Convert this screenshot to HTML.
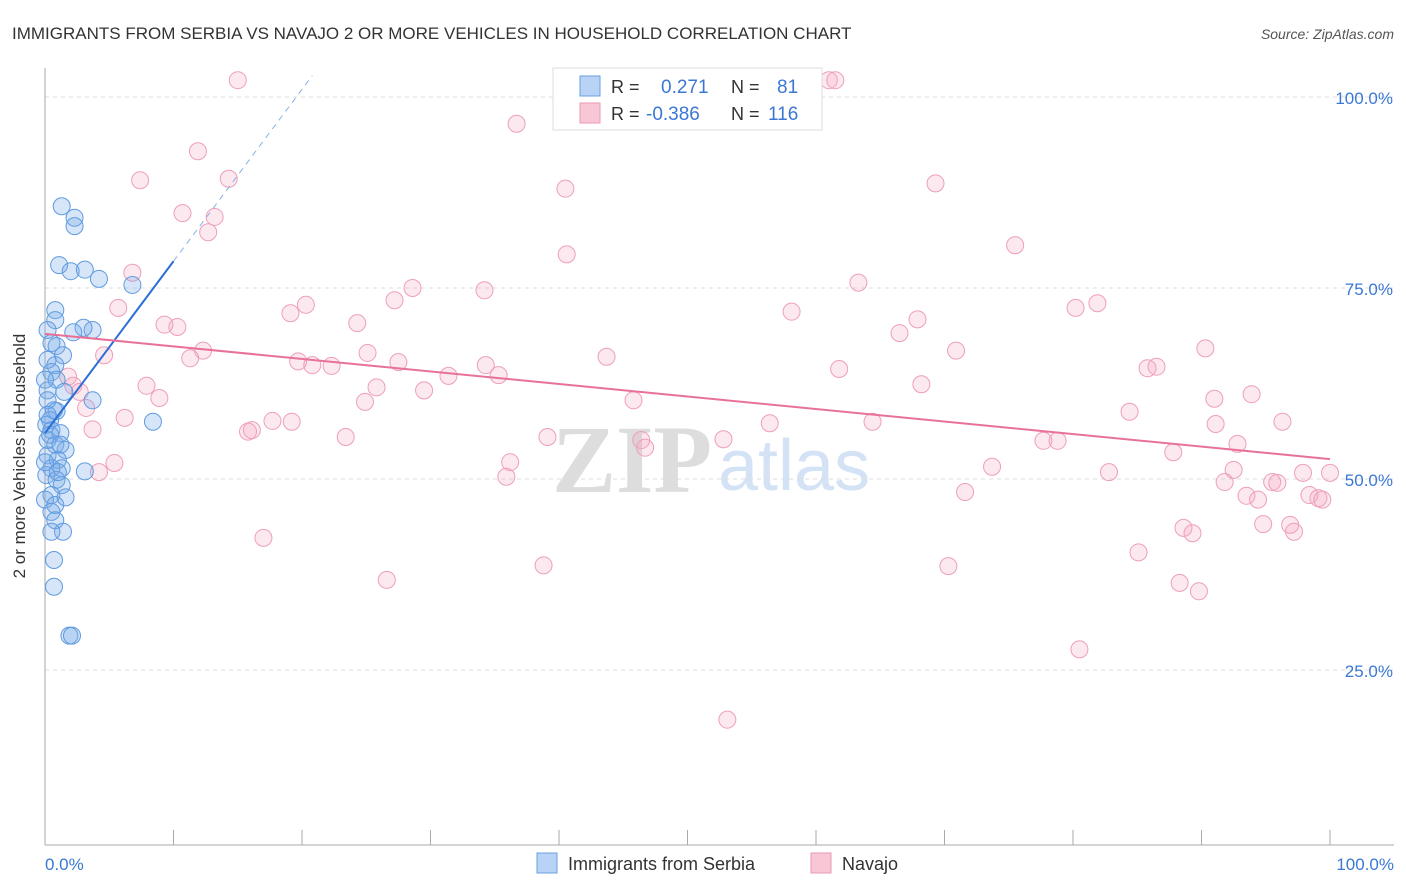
<!DOCTYPE html>
<html><head><meta charset="utf-8"><style>
body{margin:0;background:#fff;font-family:"Liberation Sans",sans-serif;}
svg{display:block}
</style></head><body>
<svg id="chart" width="1406" height="892" xmlns="http://www.w3.org/2000/svg">
<text x="12" y="39" font-size="17" fill="#333">IMMIGRANTS FROM SERBIA VS NAVAJO 2 OR MORE VEHICLES IN HOUSEHOLD CORRELATION CHART</text>
<text x="1394" y="39" font-size="14" fill="#555" font-style="italic" text-anchor="end">Source: ZipAtlas.com</text>
<g>
<text x="552" y="492" font-size="96" fill="#ddd" font-family="Liberation Serif" font-weight="bold">ZIP</text>
<text x="718" y="490" font-size="72" fill="#d3e2f5">atlas</text>
</g>
<g id="grid"></g>
<g id="axes"></g>
<g id="pts"></g>
<g id="trends"></g>
<text x="25" y="456" font-size="17" fill="#333" text-anchor="middle" transform="rotate(-90 25 456)">2 or more Vehicles in Household</text>
<text x="45" y="870" font-size="17" fill="#3a78d4">0.0%</text>
<text x="1394" y="870" font-size="17" fill="#3a78d4" text-anchor="end">100.0%</text>
<g>
<rect x="553" y="68" width="269" height="62" fill="#fff" stroke="#ddd"/>
<rect x="580" y="76" width="20" height="20" fill="#b8d3f5" stroke="#6aa0e0"/>
<rect x="580" y="103" width="20" height="20" fill="#f9c6d6" stroke="#e89ab5"/>
<text x="611" y="93" font-size="18" fill="#333">R = </text><text x="661" y="93" font-size="19" fill="#3a78d4">0.271</text>
<text x="731" y="93" font-size="18" fill="#333">N = </text><text x="777" y="93" font-size="19" fill="#3a78d4">81</text>
<text x="611" y="120" font-size="18" fill="#333">R = </text><text x="646" y="120" font-size="19" fill="#3a78d4">-0.386</text>
<text x="731" y="120" font-size="18" fill="#333">N = </text><text x="768" y="120" font-size="19" fill="#3a78d4">116</text>
</g>
<g>
<rect x="537" y="853" width="20" height="20" fill="#b8d3f5" stroke="#6aa0e0"/>
<text x="568" y="870" font-size="18" fill="#333">Immigrants from Serbia</text>
<rect x="811" y="853" width="20" height="20" fill="#f9c6d6" stroke="#e89ab5"/>
<text x="842" y="870" font-size="18" fill="#333">Navajo</text>
</g>
</svg>
<script>
const yTicks=[25,50,75,100];
const yTickLabels=["25.0%","50.0%","75.0%","100.0%"];
const xTicks=[0,10,20,30,40,50,60,70,80,90,100];
const blueX=[1.3,2.3,2.3,1.1,2.0,3.1,4.2,6.8,0.8,0.8,3.7,3.0,2.2,0.2,0.5,0.9,1.4,0.8,0.5,0.9,0.2,1.5,3.7,8.4,0.7,0.9,0.4,0.1,0.5,1.2,0.2,0.8,1.6,0.2,1.0,1.3,3.1,0.5,0.1,0.9,1.3,0.5,0.0,0.8,0.5,0.8,1.4,0.5,0.7,0.7,1.9,2.1,0.2,0.2,0.4,1.2,0.0,1.6,1.0,0.0,0.2];
const blueY=[85.7,84.2,83.1,78.0,77.2,77.4,76.2,75.4,72.1,70.8,69.5,69.8,69.2,69.5,67.8,67.4,66.2,64.9,64.0,63.0,61.6,61.4,60.3,57.5,59.0,58.9,57.7,57.1,56.4,56.0,55.1,54.5,53.8,53.1,52.5,51.4,51.0,51.4,50.5,49.9,49.2,47.9,47.3,46.6,45.7,44.6,43.1,43.1,39.4,35.9,29.5,29.5,60.3,58.4,55.8,54.5,52.2,47.6,50.9,63.0,65.6];
const pinkX=[15.0,61.0,61.5,36.7,11.9,7.4,14.3,40.5,69.3,10.7,13.2,12.7,40.6,75.5,6.8,27.2,28.6,34.2,63.3,20.3,19.1,5.7,58.1,80.2,81.9,24.3,9.3,10.3,67.9,66.5,90.3,12.3,11.3,4.6,25.1,19.7,20.8,22.3,27.5,43.7,70.9,34.3,35.3,31.4,61.8,85.8,86.5,1.8,2.2,25.8,29.5,68.2,7.9,2.7,8.9,93.9,91.0,24.9,45.8,3.2,84.4,6.2,17.7,19.2,56.4,64.4,96.3,91.1,3.7,15.8,16.1,23.4,39.1,46.4,46.7,52.8,77.7,78.8,92.8,87.8,5.4,36.2,4.2,35.9,73.7,82.8,92.5,100,97.9,91.8,95.5,95.9,71.6,93.5,94.4,98.4,99.1,99.4,96.9,94.8,97.2,88.6,89.3,17.0,85.1,38.8,70.3,26.6,88.3,89.8,80.5,53.1];
const pinkY=[102.2,102.2,102.2,96.5,92.9,89.1,89.3,88.0,88.7,84.8,84.3,82.3,79.4,80.6,77.0,73.4,75.0,74.7,75.7,72.8,71.7,72.4,71.9,72.4,73.0,70.4,70.2,69.9,70.9,69.1,67.1,66.8,65.8,66.2,66.5,65.4,64.9,64.8,65.3,66.0,66.8,64.9,63.6,63.5,64.4,64.5,64.7,63.4,62.2,62.0,61.6,62.4,62.2,61.4,60.6,61.1,60.5,60.1,60.3,59.3,58.8,58.0,57.6,57.5,57.3,57.5,57.5,57.2,56.5,56.2,56.4,55.5,55.5,55.1,54.1,55.2,55.0,55.0,54.6,53.5,52.1,52.2,50.9,50.3,51.6,50.9,51.2,50.8,50.8,49.6,49.6,49.5,48.3,47.8,47.3,47.9,47.5,47.3,44.0,44.1,43.1,43.6,42.9,42.3,40.4,38.7,38.6,36.8,36.4,35.3,27.7,18.5];
const blueTrend=[56,2.25];   // intercept, slope
const pinkTrend=[69,-0.164];
const NS="http://www.w3.org/2000/svg";
const sx=v=>45+v*12.85, sy=v=>861-v*7.64;
function mk(t,a,p){const e=document.createElementNS(NS,t);for(const k in a)e.setAttribute(k,a[k]);p.appendChild(e);return e;}
const grid=document.getElementById('grid'),axes=document.getElementById('axes'),pts=document.getElementById('pts'),tr=document.getElementById('trends');
yTicks.forEach((v,i)=>{
 const l=mk('line',{x1:45,x2:1394,y1:sy(v),y2:sy(v),stroke:'#ddd','stroke-dasharray':'4,4'},grid);
 
 
 const t=mk('text',{x:1393,y:sy(v)+7,'font-size':17,fill:'#3a78d4','text-anchor':'end'},grid);t.textContent=yTickLabels[i];
 
 
});
let a=mk('line',{x1:45,x2:45,y1:68,y2:845,stroke:'#aaa'},axes);


a=mk('line',{x1:45,x2:1394,y1:845,y2:845,stroke:'#aaa'},axes);


xTicks.forEach(v=>{const t=mk('line',{x1:sx(v),x2:sx(v),y1:830,y2:845,stroke:'#aaa'},axes);
 
 });
pinkX.forEach((x,i)=>{const c=mk('circle',{cx:sx(x),cy:sy(pinkY[i]),r:8.5,fill:'rgba(244,165,192,0.25)',stroke:'#ee9fba','stroke-width':1},pts);
 
 });
blueX.forEach((x,i)=>{const c=mk('circle',{cx:sx(x),cy:sy(blueY[i]),r:8.5,fill:'rgba(120,170,232,0.3)',stroke:'#5f9be0','stroke-width':1},pts);
 
 });
const by=x=>blueTrend[0]+blueTrend[1]*x, py=x=>pinkTrend[0]+pinkTrend[1]*x;
let l=mk('line',{x1:sx(0),y1:sy(by(0)),x2:sx(10),y2:sy(by(10)),stroke:'#2a6fd6','stroke-width':2},tr);


const xe=(102.8-blueTrend[0])/blueTrend[1];
l=mk('line',{x1:sx(10),y1:sy(by(10)),x2:sx(xe),y2:sy(by(xe)),stroke:'#8ab0e6','stroke-width':1,'stroke-dasharray':'6,5'},tr);


l=mk('line',{x1:sx(0),y1:sy(py(0)),x2:sx(100),y2:sy(py(100)),stroke:'#e8719a','stroke-width':2},tr);


</script>
</body></html>
